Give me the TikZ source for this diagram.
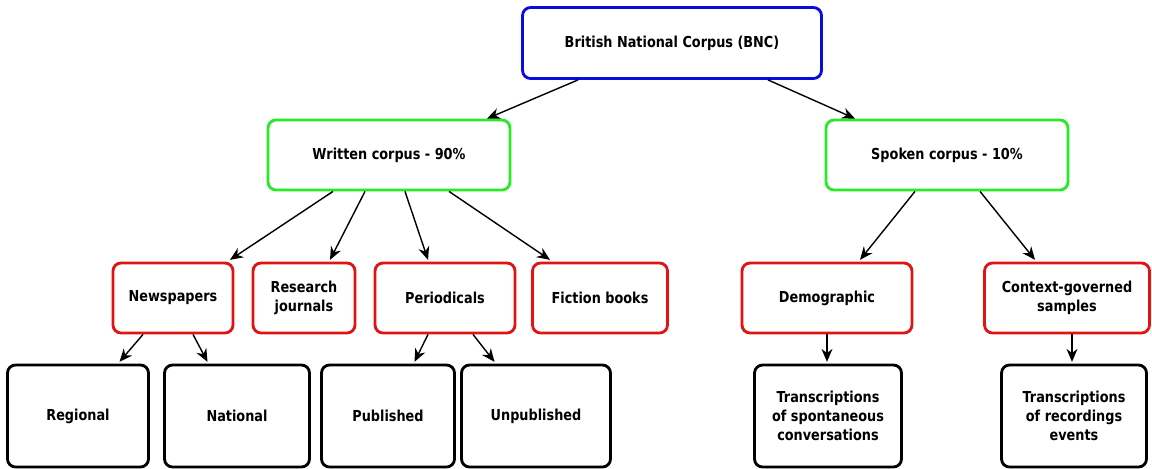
\documentclass[tikz,border=0pt]{standalone}
\usepackage{fontspec}
\setmainfont{DejaVu Sans}[FakeStretch=0.85]
\usepackage{tikz}
\usetikzlibrary{positioning, arrows.meta}

\definecolor{bncblue}{RGB}{10,10,225}
\definecolor{bncgreen}{RGB}{40,235,40}
\definecolor{bncred}{RGB}{225,20,20}

\begin{document}
\begin{tikzpicture}[
    x=0.02cm, y=-0.02cm,
    font=\fontsize{8.6}{11}\selectfont\bfseries,
    base/.style={draw, rounded corners=0.16cm, align=center, line width=1.6pt, fill=white},
    rootbox/.style={base, draw=bncblue, minimum width=5.98cm, minimum height=1.42cm},
    corpusbox/.style={base, draw=bncgreen, minimum width=4.84cm, minimum height=1.40cm},
    genrebox/.style={base, draw=bncred, minimum height=1.40cm},
    leafbox/.style={base, draw=black, minimum height=2.04cm},
    arr/.style={-{Stealth[length=2.6mm, width=2.2mm]}, line width=0.8pt}
  ]
    \useasboundingbox (0,0) rectangle (1152,468);

    \node[rootbox] (bnc) at (672,43) {British National Corpus (BNC)};

    \node[corpusbox] (written) at (389,155) {Written corpus - 90\%};
    \node[corpusbox] (spoken) at (947,155) {Spoken corpus - 10\%};

    \node[genrebox, minimum width=2.40cm] (news) at (173,298) {Newspapers};
    \node[genrebox, minimum width=2.04cm] (research) at (304,298) {Research\\journals};
    \node[genrebox, minimum width=2.80cm] (period) at (445,298) {Periodicals};
    \node[genrebox, minimum width=2.70cm] (fiction) at (600,298) {Fiction books};
    \node[genrebox, minimum width=3.40cm] (demo) at (827,298) {Demographic};
    \node[genrebox, minimum width=3.30cm] (context) at (1067,298) {Context-governed\\samples};

    \node[leafbox, minimum width=2.82cm] (regional) at (78,416) {Regional};
    \node[leafbox, minimum width=2.90cm] (national) at (237,416) {National};
    \node[leafbox, minimum width=2.66cm] (published) at (388,416) {Published};
    \node[leafbox, minimum width=2.98cm] (unpub) at (536,416) {Unpublished};
    \node[leafbox, minimum width=2.94cm] (spont) at (828,416) {Transcriptions\\of spontaneous\\conversations};
    \node[leafbox, minimum width=2.90cm] (events) at (1074,416) {Transcriptions\\of recordings\\events};

    % top level
    \draw[arr] ([xshift=-1.88cm]bnc.south) -- ([xshift=1.96cm]written.north);
    \draw[arr] ([xshift=1.92cm]bnc.south) -- ([xshift=-1.84cm]spoken.north);

    % written branches
    \draw[arr] ([xshift=-1.12cm]written.south) -- ([xshift=1.14cm, yshift=1pt]news.north);
    \draw[arr] ([xshift=-0.48cm]written.south) -- ([xshift=0.52cm, yshift=1pt]research.north);
    \draw[arr] ([xshift=0.32cm]written.south) -- ([xshift=-0.34cm, yshift=1pt]period.north);
    \draw[arr] ([xshift=1.20cm]written.south) -- ([xshift=-1.00cm, yshift=1pt]fiction.north);

    % spoken branches
    \draw[arr] ([xshift=-0.64cm]spoken.south) -- ([xshift=0.66cm, yshift=1pt]demo.north);
    \draw[arr] ([xshift=0.66cm]spoken.south) -- ([xshift=-0.64cm, yshift=1pt]context.north);

    % leaves
    \draw[arr] ([xshift=-0.60cm]news.south) -- ([xshift=0.83cm, yshift=1pt]regional.north);
    \draw[arr] ([xshift=0.40cm]news.south) -- ([xshift=-0.59cm, yshift=1pt]national.north);
    \draw[arr] ([xshift=-0.34cm]period.south) -- ([xshift=0.53cm, yshift=1pt]published.north);
    \draw[arr] ([xshift=0.56cm]period.south) -- ([xshift=-0.83cm, yshift=1pt]unpub.north);
    \draw[arr] (demo.south) -- ([yshift=1pt]demo.south |- spont.north);
    \draw[arr] ([xshift=0.1cm]context.south) -- ([xshift=0.1cm, yshift=1pt]context.south |- events.north);
\end{tikzpicture}
\end{document}
